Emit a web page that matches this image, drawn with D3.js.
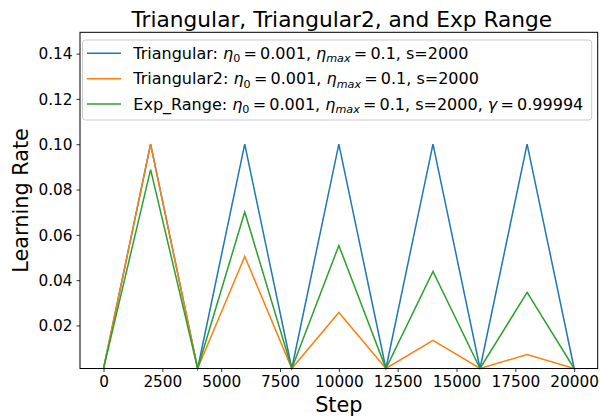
<!DOCTYPE html>
<html><head><meta charset="utf-8">
<script src="https://cdn.jsdelivr.net/npm/d3@7"></script>
<style>body{margin:0;background:#fff}svg{display:block}text{font-family:"DejaVu Sans",sans-serif}</style>
</head><body><svg id="c" width="600" height="417"></svg>
<script>
const steps = [0,2000,4000,6000,8000,10000,12000,14000,16000,18000,20000];
const triangular = [0.001,0.1,0.001,0.1,0.001,0.1,0.001,0.1,0.001,0.1,0.001];
const triangular2 = [0.001,0.1,0.001,0.0505,0.001,0.02575,0.001,0.013375,0.001,0.0071875,0.001];
const expRange = [0.001,0.0888,0.001,0.0701,0.001,0.0553,0.001,0.0438,0.001,0.0346,0.001];
const xTicks = [0,2500,5000,7500,10000,12500,15000,17500,20000];
const yTicks = [0.02,0.04,0.06,0.08,0.10,0.12,0.14];
const seriesNames = ["Triangular","Triangular2","Exp_Range"];
const colors = ["#1f77b4","#ff7f0e","#2ca02c"];
const title = "Triangular, Triangular2, and Exp Range";
const xLabel = "Step", yLabel = "Learning Rate";

const L=80, R=597.7, T=32.3, B=368.5;
const svg = d3.select("#c");
const x = d3.scaleLinear().domain([-1000,21000]).range([L,R]);
const y = d3.scaleLinear().domain([0.001,0.1494]).range([B,T]);

const data = [triangular, triangular2, expRange];
const line = d3.line().x((d,i)=>x(steps[i])).y(d=>y(d));
svg.append("g").selectAll("path").data(data).join("path")
  .attr("d", line).attr("fill","none")
  .attr("stroke",(d,i)=>colors[i]).attr("stroke-width",1.5).attr("stroke-linejoin","miter");

// axes
const xa = svg.append("g").attr("transform",`translate(0,${B})`)
  .call(d3.axisBottom(x).tickValues(xTicks).tickFormat(d3.format("d")).tickSize(3.5).tickPadding(4));
const ya = svg.append("g").attr("transform",`translate(${L},0)`)
  .call(d3.axisLeft(y).tickValues(yTicks).tickFormat(d3.format(".2f")).tickSize(3.5).tickPadding(4));
[xa,ya].forEach(a=>{a.select(".domain").remove();
  a.selectAll("text").attr("font-size",15.3).attr("fill","#000").attr("font-family","DejaVu Sans");
  a.selectAll("line").attr("stroke","#000").attr("stroke-width",0.8);});
xa.selectAll("text").attr("dy","0.75em");
ya.selectAll("text").attr("dy","0.35em");

// frame
svg.append("rect").attr("x",L).attr("y",T).attr("width",R-L).attr("height",B-T)
  .attr("fill","none").attr("stroke","#000").attr("stroke-width",1);

// titles
svg.append("text").attr("x",(L+R)/2+3).attr("y",26.5).attr("text-anchor","middle")
  .attr("font-size",21.7).text(title);
svg.append("text").attr("x",(L+R)/2).attr("y",411.7).attr("text-anchor","middle")
  .attr("font-size",20.8).text(xLabel);
svg.append("text").attr("transform",`translate(27.8,${(T+B)/2}) rotate(-90)`).attr("text-anchor","middle")
  .attr("font-size",20.8).text(yLabel);

// legend
const lg = svg.append("g");
lg.append("rect").attr("x",82.5).attr("y",40).attr("width",509.2).attr("height",80).attr("rx",3)
  .attr("fill","#fff").attr("fill-opacity",0.8).attr("stroke","#ccc").attr("stroke-width",1);
const th = "\u2009";
const labelParts = [
  [["Triangular: "],["η","i"],["0","sub"],[th+"="+th+"0.001, "],["η","i"],["max","subi"],[th+"="+th+"0.1, s=2000"]],
  [["Triangular2: "],["η","i"],["0","sub"],[th+"="+th+"0.001, "],["η","i"],["max","subi"],[th+"="+th+"0.1, s=2000"]],
  [["Exp_Range: "],["η","i"],["0","sub"],[th+"="+th+"0.001, "],["η","i"],["max","subi"],[th+"="+th+"0.1, s=2000, "],["γ","i"],[th+"="+th+"0.99994"]]
];
labelParts.forEach((parts,i)=>{
  const yy = 53.3 + i*25.35;
  lg.append("line").attr("x1",87).attr("x2",121).attr("y1",yy).attr("y2",yy)
    .attr("stroke",colors[i]).attr("stroke-width",1.5);
  const t = lg.append("text").attr("x",133.3).attr("y",yy+5.8).attr("font-size",16);
  let sub=false;
  parts.forEach(([s,k])=>{
    const ts = t.append("tspan").text(s);
    if(k==="i") ts.attr("font-style","italic");
    if(k==="sub"||k==="subi"){ ts.attr("font-size",11.2).attr("dy",3.2); if(k==="subi") ts.attr("font-style","italic"); sub=true; }
    else if(sub){ ts.attr("dy",-3.2); sub=false; }
  });
});
</script></body></html>
